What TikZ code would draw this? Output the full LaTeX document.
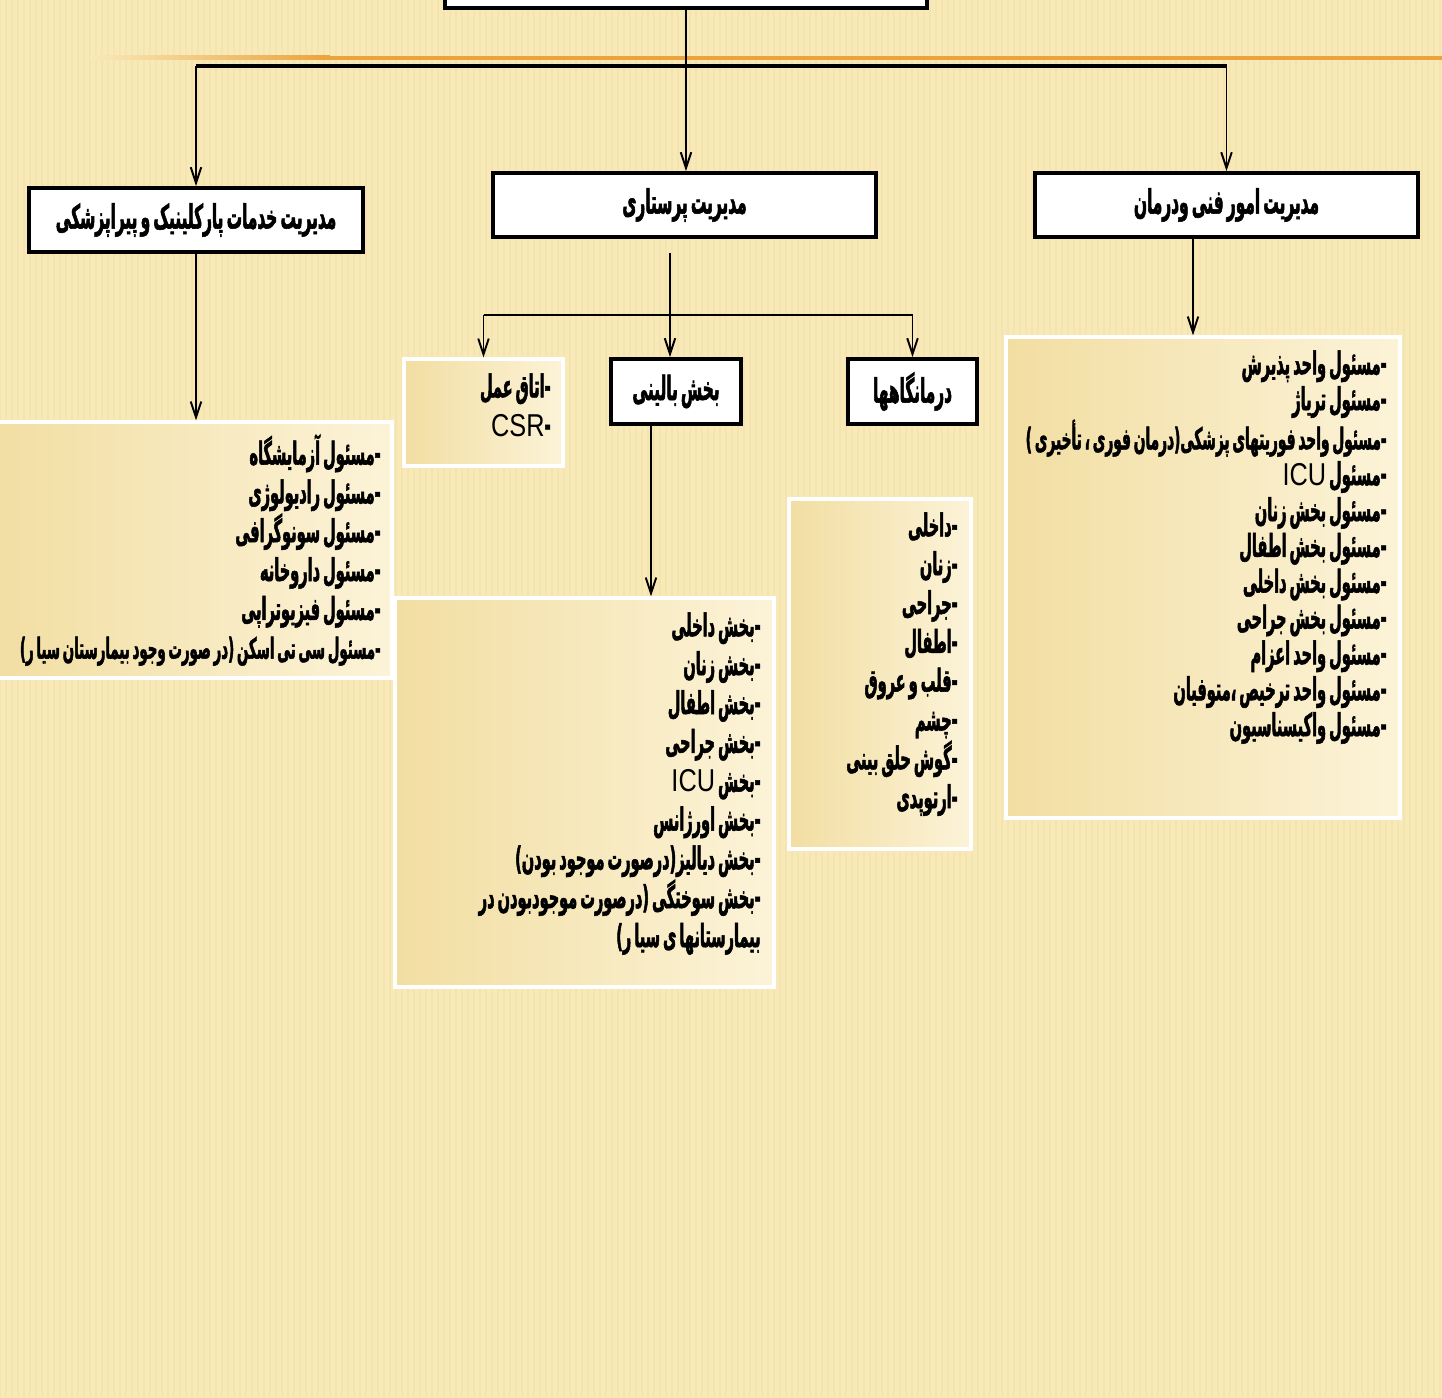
\documentclass[tikz,border=0pt]{standalone}
\usepackage{fontspec}
\usetikzlibrary{arrows.meta,fit}
\TeXXeTstate=1
\newfontfamily\arabicfont[Script=Arabic,FakeStretch=0.46,FakeBold=1.6,WordSpace=0.6]{DejaVu Sans}
\newfontfamily\latinfont[FakeStretch=0.8]{Liberation Sans}
\newcommand{\rtl}[1]{\beginR#1\endR}
\newcommand{\ltr}[1]{\beginL{\latinfont\mdseries #1}\endL}
\definecolor{paper}{HTML}{F8E9B9}
\definecolor{paperdark}{HTML}{F2DEA2}
\definecolor{paperlight}{HTML}{FCF3D8}
\definecolor{rule}{HTML}{EBA33C}

\tikzset{
  headbox/.style={draw=black, line width=2.2pt, fill=white, inner sep=0pt,
    font=\arabicfont\bfseries\fontsize{19}{22}\selectfont},
  listbox/.style={draw=white, line width=1.8pt, inner sep=0pt,
    left color=paperdark, right color=paperlight},
  listtext/.style={anchor=north east, inner sep=0pt, align=right,
    font=\arabicfont\bfseries\fontsize{18}{22.1}\selectfont},
  arr/.style={-{Straight Barb[length=9pt,width=6pt]}, line width=1.1pt},
}

\begin{document}
\begin{tikzpicture}[x=0.02cm, y=-0.02cm]
    \useasboundingbox (0,0) rectangle (1442,1398);
    \clip (0,0) rectangle (1442,1398);

    % background
    \fill[paper] (0,0) rectangle (1442,1398);
    \foreach \x in {0,6,...,1440}
        \draw[paperdark, opacity=0.45, line width=0.6pt] (\x,0) -- (\x,1398);
    \shade[left color=paper, right color=rule] (90,56) rectangle (330,60);
    \fill[rule] (330,56) rectangle (1442,60);

    % top level
    \node[headbox, minimum width=9.64cm, minimum height=0.96cm] (top) at (686,-16) {};
    \node[headbox, minimum width=6.68cm, minimum height=1.28cm] (clinic) at (196,220) {\rtl{مدیریت خدمات پارکلینیک و پیراپزشکی}};
    \node[headbox, minimum width=7.66cm, minimum height=1.28cm] (nurse) at (684.5,205) {\rtl{مدیریت پرستاری}};
    \node[headbox, minimum width=7.66cm, minimum height=1.28cm] (tech) at (1226.5,205) {\rtl{مدیریت امور فنی ودرمان}};

    % second level
    \node[listbox, fit={(404,359) (563,466)}] (or) {};
    \node[headbox, minimum width=2.6cm, minimum height=1.3cm] (ward) at (676,391.5) {\rtl{بخش بالینی}};
    \node[headbox, minimum width=2.58cm, minimum height=1.3cm] (outp) at (912.5,391.5) {\rtl{درمانگاهها}};

    % list boxes
    \node[listbox, fit={(-10,422) (392,678)}] (clinicl) {};
    \node[listbox, fit={(395,598) (774,987)}] (wardl) {};
    \node[listbox, fit={(789,499) (971,849)}] (outpl) {};
    \node[listbox, fit={(1006,337) (1400,818)}] (techl) {};

    % connectors
    \coordinate (bar) at (690,66);
    \draw[line width=2.2pt] (clinic.north |- bar) -- (tech.north |- bar);
    \draw[arr] (top.south) -- (top.south |- nurse.north);
    \draw[arr] (clinic.north |- bar) -- (clinic.north);
    \draw[arr] (tech.north |- bar) -- (tech.north);

    \draw[arr] (clinic.south) -- (clinic.south |- clinicl.north);
    \coordinate (techdown) at (1193,237);
    \draw[arr] (techdown) -- (techdown |- techl.north);

    \coordinate (nursedown) at (670,253);
    \coordinate (split) at (670,315);
    \draw[line width=1.1pt] (nursedown) -- (split);
    \draw[line width=1.1pt] (or.north |- split) -- (outp.north |- split);
    \draw[arr] (or.north |- split) -- (or.north);
    \draw[arr] (split) -- (split |- ward.north);
    \draw[arr] (outp.north |- split) -- (outp.north);

    \coordinate (warddown) at (651,424);
    \draw[arr] (warddown) -- (warddown |- wardl.north);

    % texts
    \node[listtext] (ortext) at (551,373) {\rtl{-اتاق عمل}\\ \rtl{-\ltr{CSR}}};

    \node[listtext, font=\arabicfont\bfseries\fontsize{18}{20.4}\selectfont] (techtext) at (1387,350) {%
        \rtl{-مسئول واحد پذیرش}\\
        \rtl{-مسئول تریاژ}\\
        {\fontsize{17}{20.4}\selectfont\beginR -مسئول واحد فوریتهای پزشکی(درمان فوری ، تأخیری )\endR}\\
        \rtl{-مسئول \ltr{ICU}}\\
        \rtl{-مسئول بخش زنان}\\
        \rtl{-مسئول بخش اطفال}\\
        \rtl{-مسئول بخش داخلی}\\
        \rtl{-مسئول بخش جراحی}\\
        \rtl{-مسئول واحد اعزام}\\
        \rtl{-مسئول واحد ترخیص ،متوفیان}\\
        \rtl{-مسئول واکیسناسیون}};

    \node[listtext] (outptext) at (958,512) {%
        \rtl{-داخلی}\\
        \rtl{-زنان}\\
        \rtl{-جراحی}\\
        \rtl{-اطفال}\\
        \rtl{-قلب و عروق}\\
        \rtl{-چشم}\\
        \rtl{-گوش حلق بینی}\\
        \rtl{-ارتوپدی}};

    \node[listtext] (wardtext) at (761,612) {%
        \rtl{-بخش داخلی}\\
        \rtl{-بخش زنان}\\
        \rtl{-بخش اطفال}\\
        \rtl{-بخش جراحی}\\
        \rtl{-بخش \ltr{ICU}}\\
        \rtl{-بخش اورژانس}\\
        \rtl{-بخش دیالیز(درصورت موجود بودن)}\\
        \rtl{-بخش سوختگی (درصورت موجودبودن در}\\
        \rtl{بیمارستانها ی سیا ر)}};

    \node[listtext] (clinictext) at (381,434) {%
        \rtl{-مسئول آزمایشگاه}\\
        \rtl{-مسئول رادیولوژی}\\
        \rtl{-مسئول سونوگرافی}\\
        \rtl{-مسئول داروخانه}\\
        \rtl{-مسئول فیزیوتراپی}\\
        {\fontsize{16.5}{22.1}\selectfont\beginR -مسئول سی تی اسکن (در صورت وجود بیمارستان سیا ر)\endR}};
\end{tikzpicture}
\end{document}
